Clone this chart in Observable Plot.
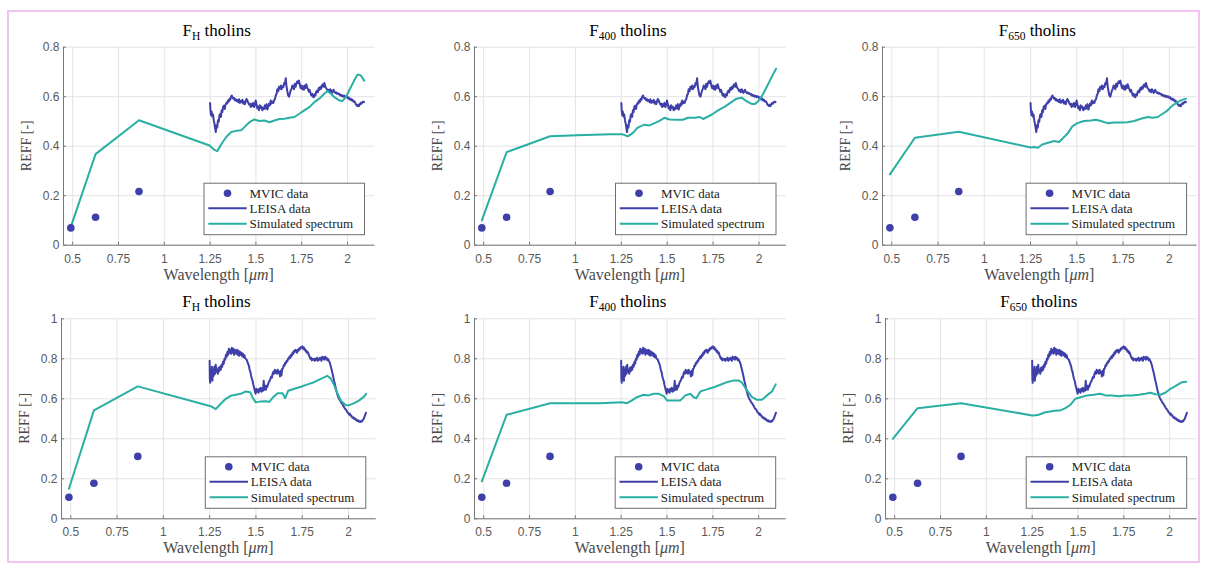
<!DOCTYPE html>
<html><head><meta charset="utf-8">
<script src="https://cdn.jsdelivr.net/npm/d3@7"></script>
<script src="https://cdn.jsdelivr.net/npm/@observablehq/plot@0.6"></script>
<style>
html,body{margin:0;padding:0;background:#fff;}
#fig{position:relative;width:1207px;height:565px;overflow:hidden;background:#fff;}
#border{position:absolute;left:7px;top:10px;width:1193px;height:553px;border:2px solid #f3c3f3;box-sizing:border-box;pointer-events:none;z-index:5;}
.panel{position:absolute;}
</style></head><body><div id="fig"><div id="border"></div></div>
<script>
// ---------------- data ----------------
const xTicks = [0.5, 0.75, 1, 1.25, 1.5, 1.75, 2];
const xTickLabels = ["0.5", "0.75", "1", "1.25", "1.5", "1.75", "2"];
const yTicksTop = [0, 0.2, 0.4, 0.6, 0.8];
const yTickLabelsTop = ["0", "0.2", "0.4", "0.6", "0.8"];
const yTicksBottom = [0, 0.2, 0.4, 0.6, 0.8, 1];
const yTickLabelsBottom = ["0", "0.2", "0.4", "0.6", "0.8", "1"];
const xDomain = [0.45, 2.15];

const titleBase = ["F", "F", "F"];
const titleSub = ["H", "400", "650"];
const titleRest = " tholins";
const legendLabels = ["MVIC data", "LEISA data", "Simulated spectrum"];

const mvicWavelength = [0.49, 0.625, 0.862];
const mvicTop = [0.07, 0.113, 0.217];
const mvicBottom = [0.108, 0.178, 0.312];

const leisaTopWavelength = [1.250,1.252,1.255,1.258,1.262,1.266,1.270,1.274,1.278,1.281,1.285,1.289,1.293,1.297,1.301,1.305,1.309,1.313,1.317,1.321,1.326,1.330,1.334,1.339,1.343,1.347,1.352,1.356,1.360,1.364,1.368,1.372,1.377,1.381,1.386,1.390,1.395,1.399,1.404,1.408,1.413,1.417,1.422,1.426,1.431,1.436,1.440,1.445,1.449,1.454,1.458,1.463,1.467,1.472,1.476,1.481,1.485,1.490,1.494,1.499,1.503,1.508,1.512,1.517,1.521,1.526,1.530,1.535,1.540,1.544,1.549,1.553,1.558,1.563,1.567,1.572,1.576,1.581,1.585,1.590,1.595,1.599,1.604,1.608,1.613,1.617,1.622,1.626,1.631,1.636,1.640,1.645,1.649,1.654,1.658,1.663,1.667,1.672,1.676,1.681,1.685,1.690,1.694,1.699,1.703,1.708,1.712,1.717,1.721,1.726,1.730,1.735,1.739,1.744,1.748,1.753,1.757,1.762,1.766,1.771,1.775,1.780,1.784,1.789,1.793,1.798,1.802,1.807,1.811,1.816,1.820,1.825,1.829,1.834,1.838,1.843,1.847,1.852,1.856,1.861,1.865,1.870,1.874,1.879,1.883,1.888,1.892,1.897,1.901,1.906,1.910,1.915,1.919,1.924,1.928,1.933,1.937,1.942,1.946,1.951,1.955,1.960,1.964,1.969,1.973,1.978,1.982,1.987,1.991,1.996,2.000,2.005,2.009,2.014,2.018,2.023,2.027,2.032,2.036,2.041,2.045,2.050,2.054,2.059,2.063,2.068,2.072,2.077,2.081,2.086,2.090];
const leisaTopReff = [0.575,0.545,0.525,0.540,0.520,0.528,0.505,0.490,0.470,0.457,0.485,0.475,0.505,0.498,0.525,0.530,0.518,0.545,0.538,0.560,0.564,0.550,0.568,0.575,0.572,0.585,0.580,0.592,0.588,0.600,0.605,0.598,0.592,0.595,0.585,0.590,0.582,0.586,0.578,0.590,0.575,0.583,0.578,0.588,0.572,0.580,0.570,0.583,0.591,0.585,0.575,0.568,0.572,0.558,0.570,0.562,0.575,0.558,0.565,0.585,0.570,0.552,0.560,0.545,0.565,0.555,0.560,0.545,0.555,0.550,0.565,0.552,0.570,0.548,0.560,0.572,0.565,0.585,0.572,0.580,0.575,0.585,0.590,0.605,0.612,0.630,0.622,0.640,0.632,0.645,0.630,0.642,0.638,0.655,0.650,0.675,0.640,0.620,0.605,0.600,0.612,0.625,0.632,0.645,0.640,0.630,0.652,0.640,0.652,0.662,0.655,0.665,0.650,0.635,0.645,0.630,0.642,0.628,0.645,0.635,0.650,0.638,0.630,0.620,0.628,0.615,0.605,0.612,0.600,0.598,0.610,0.605,0.620,0.625,0.618,0.635,0.628,0.640,0.632,0.645,0.650,0.640,0.655,0.640,0.635,0.630,0.622,0.628,0.618,0.630,0.625,0.615,0.620,0.628,0.620,0.615,0.618,0.612,0.615,0.610,0.612,0.605,0.608,0.602,0.606,0.600,0.604,0.598,0.602,0.600,0.595,0.598,0.590,0.588,0.592,0.585,0.588,0.580,0.582,0.578,0.570,0.565,0.562,0.568,0.562,0.570,0.575,0.572,0.578,0.580,0.578];

const leisaBottomWavelength = [1.250,1.251,1.253,1.256,1.259,1.262,1.265,1.268,1.272,1.275,1.279,1.283,1.286,1.290,1.294,1.298,1.302,1.306,1.310,1.314,1.318,1.322,1.326,1.330,1.334,1.338,1.342,1.346,1.350,1.354,1.358,1.362,1.366,1.370,1.374,1.378,1.382,1.386,1.390,1.394,1.398,1.402,1.406,1.410,1.414,1.418,1.422,1.426,1.430,1.434,1.438,1.442,1.446,1.450,1.454,1.458,1.462,1.466,1.470,1.474,1.478,1.482,1.486,1.490,1.494,1.498,1.502,1.506,1.510,1.514,1.518,1.522,1.526,1.530,1.534,1.538,1.542,1.546,1.550,1.554,1.558,1.562,1.566,1.570,1.574,1.578,1.582,1.586,1.590,1.594,1.598,1.602,1.606,1.610,1.614,1.618,1.622,1.626,1.630,1.634,1.638,1.642,1.646,1.650,1.654,1.658,1.662,1.666,1.670,1.674,1.678,1.682,1.686,1.690,1.694,1.698,1.702,1.706,1.710,1.714,1.718,1.722,1.726,1.730,1.734,1.738,1.742,1.746,1.750,1.754,1.758,1.762,1.766,1.770,1.774,1.778,1.782,1.786,1.790,1.794,1.798,1.802,1.806,1.810,1.814,1.818,1.822,1.826,1.830,1.834,1.838,1.842,1.846,1.850,1.854,1.858,1.862,1.866,1.870,1.874,1.878,1.882,1.886,1.890,1.894,1.898,1.902,1.906,1.910,1.914,1.918,1.922,1.926,1.930,1.934,1.938,1.942,1.946,1.950,1.954,1.958,1.962,1.966,1.970,1.974,1.978,1.982,1.986,1.990,1.994,1.998,2.002,2.006,2.010,2.014,2.018,2.022,2.026,2.030,2.034,2.038,2.042,2.046,2.050,2.054,2.058,2.062,2.066,2.070,2.074,2.078,2.082,2.086,2.090,2.094];
const leisaBottomReff = [0.790,0.700,0.680,0.740,0.700,0.760,0.690,0.745,0.715,0.760,0.725,0.770,0.735,0.745,0.725,0.755,0.738,0.760,0.745,0.770,0.760,0.785,0.775,0.800,0.795,0.820,0.810,0.835,0.820,0.850,0.830,0.845,0.825,0.855,0.830,0.850,0.820,0.845,0.835,0.825,0.845,0.820,0.840,0.815,0.835,0.820,0.830,0.812,0.825,0.808,0.818,0.802,0.800,0.795,0.785,0.775,0.765,0.745,0.735,0.715,0.700,0.690,0.670,0.655,0.640,0.625,0.650,0.635,0.645,0.630,0.650,0.640,0.655,0.635,0.650,0.640,0.690,0.645,0.665,0.645,0.665,0.660,0.675,0.685,0.690,0.700,0.710,0.705,0.725,0.735,0.725,0.745,0.730,0.740,0.725,0.745,0.730,0.735,0.712,0.740,0.717,0.750,0.752,0.768,0.765,0.780,0.778,0.790,0.788,0.802,0.800,0.812,0.805,0.820,0.815,0.832,0.825,0.840,0.835,0.845,0.838,0.830,0.845,0.840,0.852,0.848,0.858,0.855,0.862,0.850,0.858,0.845,0.848,0.835,0.840,0.828,0.832,0.818,0.810,0.800,0.805,0.792,0.800,0.795,0.800,0.790,0.800,0.795,0.805,0.790,0.800,0.795,0.805,0.800,0.790,0.810,0.800,0.808,0.795,0.810,0.800,0.805,0.792,0.798,0.790,0.782,0.770,0.755,0.740,0.725,0.708,0.690,0.675,0.658,0.642,0.628,0.615,0.606,0.598,0.592,0.585,0.580,0.575,0.568,0.562,0.555,0.550,0.546,0.540,0.532,0.530,0.522,0.526,0.516,0.518,0.510,0.505,0.508,0.500,0.502,0.495,0.498,0.490,0.488,0.492,0.485,0.488,0.484,0.490,0.488,0.495,0.500,0.510,0.520,0.530];

const simTopFHWavelength = [0.49,0.625,0.862,1.247,1.274,1.289,1.311,1.338,1.365,1.392,1.42,1.447,1.465,1.492,1.519,1.547,1.574,1.601,1.628,1.655,1.683,1.71,1.737,1.764,1.792,1.819,1.846,1.873,1.891,1.91,1.928,1.955,1.973,1.991,2.009,2.036,2.055,2.073,2.091];
const simTopFHReff = [0.074,0.368,0.505,0.403,0.385,0.38,0.408,0.437,0.457,0.462,0.464,0.484,0.497,0.508,0.502,0.504,0.497,0.504,0.51,0.511,0.515,0.518,0.531,0.545,0.558,0.578,0.592,0.612,0.623,0.612,0.598,0.585,0.583,0.598,0.625,0.665,0.69,0.686,0.665];

const simTop400Wavelength = [0.49,0.625,0.862,1.011,1.193,1.257,1.285,1.312,1.339,1.376,1.403,1.431,1.458,1.485,1.513,1.549,1.586,1.613,1.65,1.677,1.695,1.723,1.75,1.777,1.814,1.85,1.878,1.905,1.932,1.96,1.978,1.996,2.015,2.042,2.069,2.093];
const simTop400Reff = [0.10,0.376,0.44,0.444,0.448,0.448,0.44,0.453,0.475,0.487,0.484,0.493,0.502,0.515,0.508,0.507,0.507,0.515,0.515,0.518,0.51,0.52,0.531,0.545,0.56,0.578,0.592,0.596,0.582,0.571,0.571,0.582,0.601,0.639,0.679,0.713];

const simTop650Wavelength = [0.49,0.625,0.862,1.25,1.268,1.29,1.313,1.34,1.377,1.404,1.422,1.449,1.476,1.503,1.539,1.575,1.603,1.63,1.666,1.702,1.738,1.774,1.81,1.846,1.883,1.91,1.937,1.964,1.991,2.018,2.045,2.063,2.09];
const simTop650Reff = [0.286,0.434,0.458,0.395,0.397,0.394,0.407,0.413,0.421,0.417,0.43,0.45,0.48,0.493,0.502,0.504,0.507,0.502,0.493,0.496,0.496,0.497,0.502,0.511,0.518,0.515,0.518,0.531,0.545,0.565,0.578,0.585,0.592];

const simBottomFHWavelength = [0.49,0.625,0.862,1.256,1.283,1.31,1.337,1.364,1.391,1.418,1.445,1.469,1.481,1.499,1.526,1.553,1.572,1.59,1.617,1.644,1.658,1.674,1.707,1.743,1.779,1.806,1.833,1.86,1.885,1.905,1.923,1.941,1.959,1.986,2.004,2.031,2.058,2.085,2.095];
const simBottomFHReff = [0.15,0.542,0.662,0.563,0.548,0.575,0.6,0.615,0.62,0.625,0.637,0.633,0.608,0.582,0.587,0.588,0.585,0.605,0.628,0.628,0.603,0.64,0.65,0.66,0.672,0.68,0.692,0.703,0.715,0.70,0.667,0.625,0.59,0.568,0.568,0.578,0.592,0.612,0.625];

const simBottom400Wavelength = [0.49,0.625,0.862,1.136,1.255,1.282,1.309,1.336,1.373,1.4,1.427,1.455,1.482,1.5,1.536,1.573,1.6,1.627,1.645,1.66,1.682,1.718,1.755,1.791,1.827,1.864,1.891,1.909,1.936,1.964,1.991,2.018,2.045,2.073,2.093];
const simBottom400Reff = [0.187,0.52,0.578,0.578,0.583,0.578,0.592,0.608,0.62,0.617,0.625,0.625,0.613,0.592,0.592,0.592,0.617,0.625,0.608,0.603,0.637,0.647,0.658,0.67,0.683,0.692,0.692,0.68,0.642,0.608,0.595,0.595,0.617,0.637,0.672];

const simBottom650Wavelength = [0.49,0.625,0.862,1.25,1.258,1.285,1.322,1.358,1.385,1.404,1.431,1.458,1.485,1.513,1.549,1.585,1.622,1.649,1.685,1.722,1.758,1.795,1.831,1.867,1.895,1.922,1.949,1.976,2.004,2.031,2.067,2.09];
const simBottom650Reff = [0.40,0.553,0.578,0.517,0.517,0.52,0.533,0.538,0.542,0.542,0.553,0.57,0.6,0.608,0.617,0.62,0.625,0.617,0.617,0.613,0.617,0.617,0.62,0.625,0.63,0.623,0.62,0.63,0.65,0.663,0.683,0.685];

// ---------------- styling / layout ----------------
const blue = "#3f3fa9";
const teal = "#29afa4";
const sans = "'Liberation Sans', Arial, Helvetica, sans-serif";
const serif = "'Liberation Serif', 'Times New Roman', Times, serif";

const toPoints = (xs, ys) => xs.map((x, i) => ({x, y: ys[i]}));

const panels = [
  {row: 0, col: 0, x0: 62.5, x1: 374.0, y0: 46.7, y1: 244.7, sim: [simTopFHWavelength, simTopFHReff]},
  {row: 0, col: 1, x0: 473.9, x1: 785.9, y0: 46.7, y1: 244.7, sim: [simTop400Wavelength, simTop400Reff]},
  {row: 0, col: 2, x0: 882.2, x1: 1196.8, y0: 46.7, y1: 244.7, sim: [simTop650Wavelength, simTop650Reff]},
  {row: 1, col: 0, x0: 60.7, x1: 375.5, y0: 318.3, y1: 518.3, sim: [simBottomFHWavelength, simBottomFHReff]},
  {row: 1, col: 1, x0: 474.1, x1: 785.8, y0: 318.3, y1: 518.3, sim: [simBottom400Wavelength, simBottom400Reff]},
  {row: 1, col: 2, x0: 885.1, x1: 1196.8, y0: 318.3, y1: 518.3, sim: [simBottom650Wavelength, simBottom650Reff]}
];

const fig = document.getElementById("fig");

for (const p of panels) {
  const W = p.x1 - p.x0, H = p.y1 - p.y0;
  const mL = 56, mR = 4;
  const svgTop = p.row === 0 ? 0 : 283;
  const svgH = p.row === 0 ? 283 : 282;
  const mT = p.y0 - svgTop, mB = svgTop + svgH - p.y1;
  const yTicks = p.row === 0 ? yTicksTop : yTicksBottom;
  const yLabels = p.row === 0 ? yTickLabelsTop : yTickLabelsBottom;
  const leisa = p.row === 0 ? toPoints(leisaTopWavelength, leisaTopReff) : toPoints(leisaBottomWavelength, leisaBottomReff);
  const mvic = toPoints(mvicWavelength, p.row === 0 ? mvicTop : mvicBottom);
  const sim = toPoints(p.sim[0], p.sim[1]);

  const chart = Plot.plot({
    width: W + mL + mR, height: svgH,
    marginLeft: mL, marginRight: mR, marginTop: mT, marginBottom: mB,
    style: {background: "transparent", overflow: "visible", fontFamily: sans},
    x: {domain: xDomain},
    y: {domain: [0, yTicks[yTicks.length - 1]]},
    marks: [
      Plot.gridX(xTicks, {stroke: "#e4e4e4", strokeOpacity: 1}),
      Plot.gridY(yTicks, {stroke: "#e4e4e4", strokeOpacity: 1}),
      Plot.ruleX(xTicks, {x: d => d, stroke: "#777", insetTop: H - 3}),
      Plot.ruleY(yTicks, {y: d => d, stroke: "#777", insetRight: W - 3}),
      Plot.ruleX([xDomain[0]], {stroke: "#777"}),
      Plot.ruleY([0], {stroke: "#777"}),
      Plot.axisX(xTicks, {tickSize: 0, tickPadding: 9, label: null, fontSize: 12, fill: "#595959", fontFamily: sans,
        tickFormat: d => xTickLabels[xTicks.indexOf(d)]}),
      Plot.axisY(yTicks, {tickSize: 0, tickPadding: 4, label: null, fontSize: 12, fill: "#595959", fontFamily: sans,
        tickFormat: d => yLabels[yTicks.indexOf(d)]}),
      Plot.line(leisa, {x: "x", y: "y", stroke: blue, strokeWidth: 2}),
      Plot.line(sim, {x: "x", y: "y", stroke: teal, strokeWidth: 2}),
      Plot.dot(mvic, {x: "x", y: "y", r: 3.8, fill: blue, stroke: "none"})
    ]
  });

  const div = document.createElement("div");
  div.className = "panel";
  div.style.left = (p.x0 - mL) + "px";
  div.style.top = svgTop + "px";
  div.style.width = (W + mL + mR) + "px";
  div.style.height = svgH + "px";
  div.appendChild(chart);
  fig.appendChild(div);

  const svg = d3.select(chart);
  const cx = mL + W / 2;
  const fb = mT + H;

  // title with subscript
  const t = svg.append("text")
    .attr("x", cx - 2).attr("y", mT - 11)
    .attr("text-anchor", "middle")
    .attr("font-family", serif).style("font-family", serif)
    .style("font-size", "17px").style("font-weight", "normal").attr("fill", "#000");
  t.append("tspan").text(titleBase[p.col]);
  t.append("tspan").attr("dy", 4).style("font-size", "11.5px").text(titleSub[p.col]);
  t.append("tspan").attr("dy", -4).text(titleRest);

  // x label
  const xl = svg.append("text")
    .attr("x", cx).attr("y", fb + 35)
    .attr("text-anchor", "middle")
    .attr("font-family", serif).style("font-family", serif)
    .style("font-size", "16px").attr("fill", "#4a4a4a");
  xl.append("tspan").text("Wavelength [");
  xl.append("tspan").style("font-style", "italic").text("μm");
  xl.append("tspan").text("]");

  // y label
  svg.append("text")
    .attr("transform", `translate(${mL - 36.5},${mT + H / 2}) rotate(-90)`)
    .attr("text-anchor", "middle").attr("dominant-baseline", "central")
    .attr("font-family", serif).style("font-family", serif)
    .style("font-size", "14px").attr("fill", "#4a4a4a")
    .text("REFF [-]");

  // legend
  const bw = 160.5, bh = 51.5;
  const bx = mL + W - 10 - bw, by = fb - 10 - bh;
  const lg = svg.append("g");
  lg.append("rect").attr("x", bx).attr("y", by).attr("width", bw).attr("height", bh)
    .attr("fill", "#fff").attr("stroke", "#6e6e6e").attr("stroke-width", 1);
  const rows = [10, 25, 40.5];
  lg.append("circle").attr("cx", bx + 23.5).attr("cy", by + rows[0]).attr("r", 3.8).attr("fill", blue);
  lg.append("line").attr("x1", bx + 4.3).attr("x2", bx + 42.7).attr("y1", by + rows[1]).attr("y2", by + rows[1])
    .attr("stroke", blue).attr("stroke-width", 2);
  lg.append("line").attr("x1", bx + 4.3).attr("x2", bx + 42.7).attr("y1", by + rows[2]).attr("y2", by + rows[2])
    .attr("stroke", teal).attr("stroke-width", 2);
  legendLabels.forEach((lab, i) => {
    lg.append("text").attr("x", bx + 45.5).attr("y", by + rows[i] + 4.5)
      .attr("text-anchor", "start")
      .attr("font-family", serif).style("font-family", serif)
      .style("font-size", "13px").attr("fill", "#222").text(lab);
  });
}
</script></body></html>
